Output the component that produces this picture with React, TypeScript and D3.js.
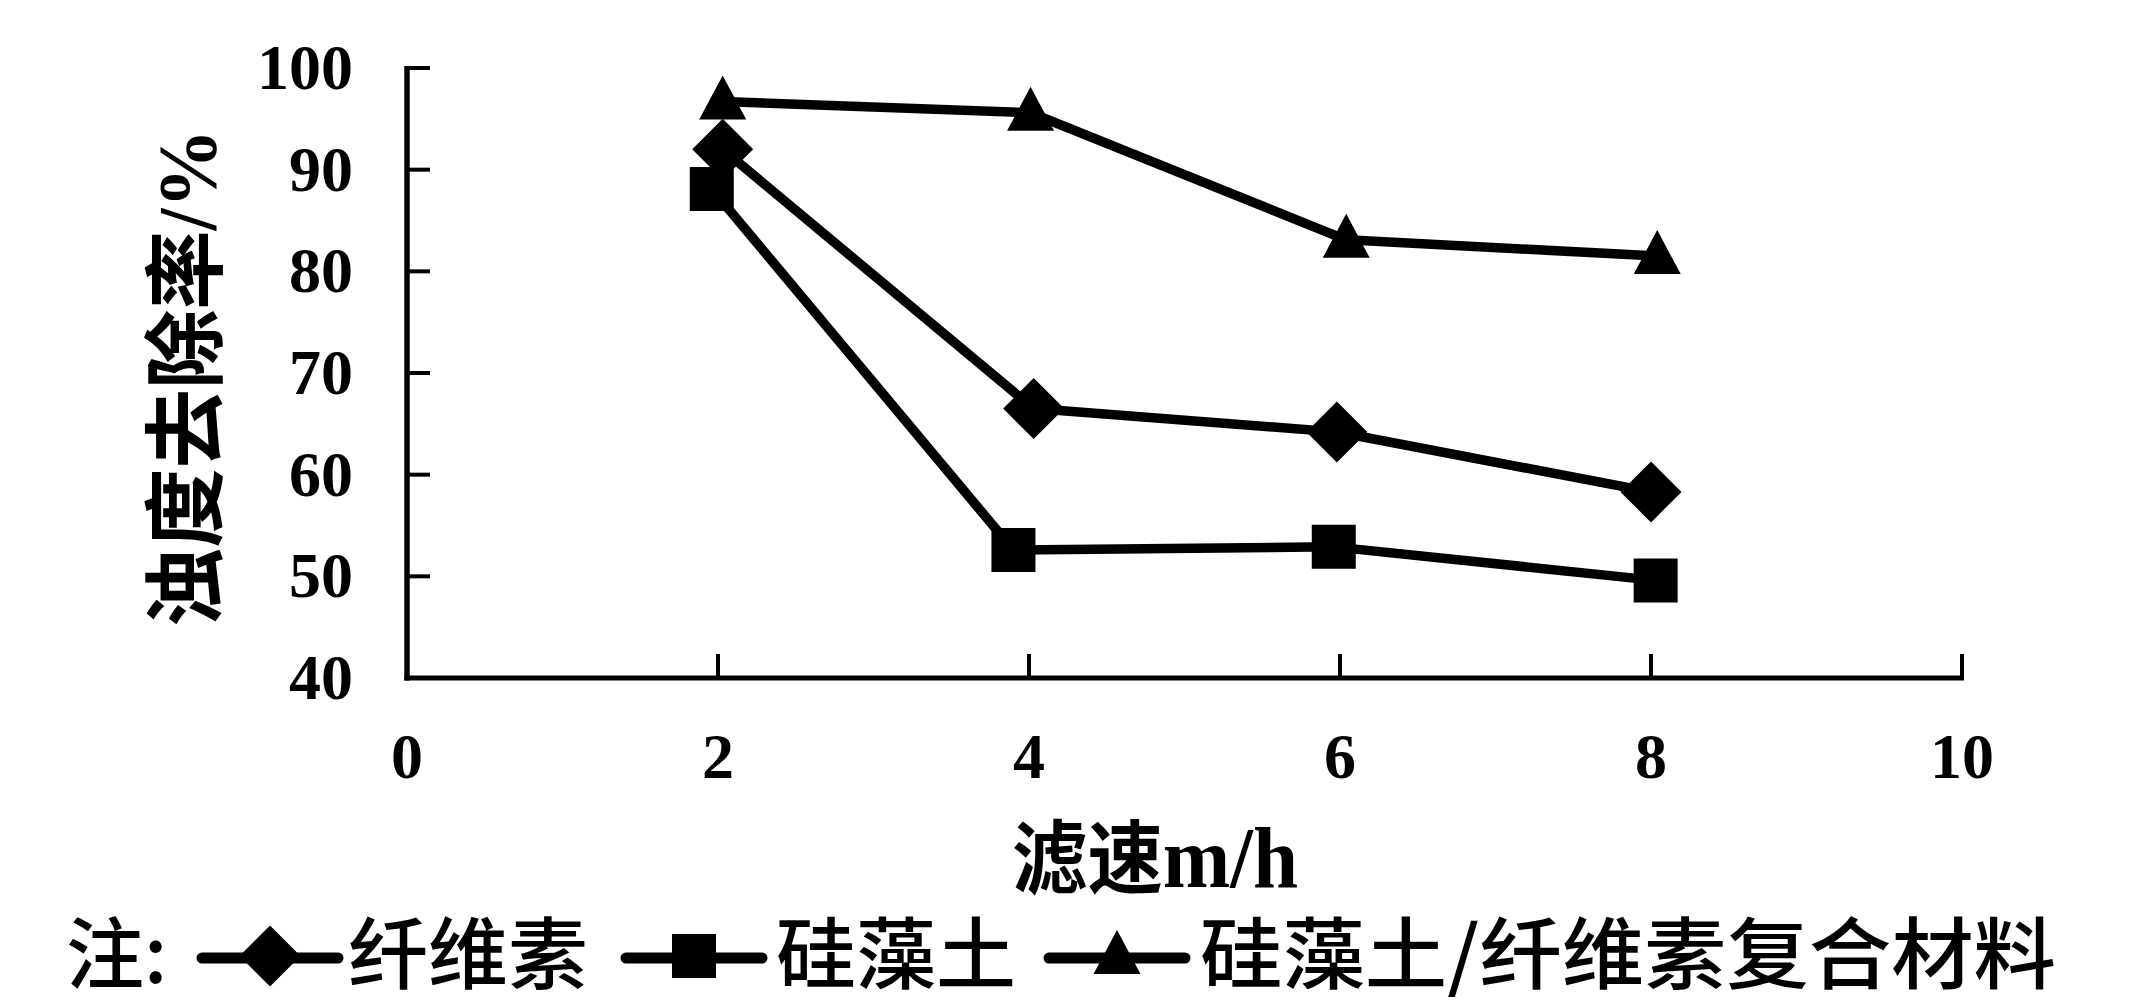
import React from "react";
import * as d3 from "d3";

// ---- data ----
const X_TICKS = [0, 2, 4, 6, 8, 10];
const Y_TICKS = [40, 50, 60, 70, 80, 90, 100];

const celluloseX = [2.03, 4.03, 5.98, 8.0];
const celluloseY = [92.0, 66.5, 64.2, 58.3];

const diatomiteX = [1.96, 3.9, 5.96, 8.03];
const diatomiteY = [88.1, 52.6, 52.9, 49.6];

const compositeX = [2.03, 4.01, 6.04, 8.04];
const compositeY = [96.7, 95.6, 83.1, 81.5];

const SERIES_NAMES = ["纤维素", "硅藻土", "硅藻土/纤维素复合材料"];
const SERIES_MARKERS = ["diamond", "square", "triangle"];

const Y_TITLE = "浊度去除率/%";
const X_TITLE_CJK = "滤速";
const X_TITLE_UNIT = "m/h";
const LEGEND_PREFIX = "注:";

// ---- layout ----
const W = 2142;
const H = 1007;
const PLOT_LEFT = 407;
const PLOT_RIGHT = 1962;
const PLOT_TOP = 68;
const PLOT_BOTTOM = 678;

const x = d3.scaleLinear().domain([0, 10]).range([PLOT_LEFT, PLOT_RIGHT]);
const y = d3.scaleLinear().domain([40, 100]).range([PLOT_BOTTOM, PLOT_TOP]);

const SERIF = "'Liberation Serif', 'Times New Roman', serif";
const CJK = "'Noto Sans CJK SC', 'Noto Sans CJK JP', sans-serif";
const MIXED = "'Liberation Serif', 'Noto Sans CJK SC', serif";

function markerPath(kind: string): string {
  if (kind === "diamond") {
    const r = 30.5;
    return `M0,${-r}L${r},0L0,${r}L${-r},0Z`;
  }
  if (kind === "square") {
    const h = 22;
    return `M${-h},${-h}L${h},${-h}L${h},${h}L${-h},${h}Z`;
  }
  const hw = 23.5;
  return `M0,-26L${hw},18L${-hw},18Z`;
}

const line = d3
  .line<[number, number]>()
  .x((d) => x(d[0]))
  .y((d) => y(d[1]));

export default function App() {
  const series = [
    { xs: celluloseX, ys: celluloseY, marker: SERIES_MARKERS[0] },
    { xs: diatomiteX, ys: diatomiteY, marker: SERIES_MARKERS[1] },
    { xs: compositeX, ys: compositeY, marker: SERIES_MARKERS[2] },
  ];

  const tickFs = 64;

  // legend layout
  const legendLineY = 958;
  const legendBaseline = 983;
  const legendItems = [
    { lineX0: 202, lineX1: 338, textX: 348, textLen: 240 },
    { lineX0: 626, lineX1: 762, textX: 776, textLen: 240 },
    { lineX0: 1049, lineX1: 1185, textX: 1200, textLen: 856 },
  ];

  return (
    <svg
      width={W}
      height={H}
      viewBox={`0 0 ${W} ${H}`}
      style={{ position: "absolute", left: 0, top: 0, display: "block", background: "#fff" }}
    >
      <rect x={0} y={0} width={W} height={H} fill="#fff" />

      {/* axes */}
      <line x1={PLOT_LEFT} y1={PLOT_TOP - 2} x2={PLOT_LEFT} y2={PLOT_BOTTOM + 2.5} stroke="#000" strokeWidth={5.5} />
      <line x1={PLOT_LEFT - 2.5} y1={PLOT_BOTTOM} x2={PLOT_RIGHT + 2} y2={PLOT_BOTTOM} stroke="#000" strokeWidth={5} />

      {Y_TICKS.map((t) => (
        <g key={"yt" + t}>
          <line x1={PLOT_LEFT} x2={PLOT_LEFT + 23} y1={y(t)} y2={y(t)} stroke="#000" strokeWidth={4} />
          <text
            x={353}
            y={y(t) + tickFs * 0.33}
            textAnchor="end"
            fontFamily={SERIF}
            fontWeight="bold"
            fontSize={tickFs}
            fill="#000"
          >
            {t}
          </text>
        </g>
      ))}

      {X_TICKS.map((t) => (
        <g key={"xt" + t}>
          <line x1={x(t)} x2={x(t)} y1={PLOT_BOTTOM} y2={PLOT_BOTTOM - 24} stroke="#000" strokeWidth={4} />
          <text
            x={x(t)}
            y={757 + tickFs * 0.33}
            textAnchor="middle"
            fontFamily={SERIF}
            fontWeight="bold"
            fontSize={tickFs}
            fill="#000"
          >
            {t}
          </text>
        </g>
      ))}

      {/* series */}
      {series.map((s, i) => {
        const pts: [number, number][] = s.xs.map((v, j) => [v, s.ys[j]]);
        return (
          <g key={"s" + i}>
            <path
              d={line(pts) || ""}
              fill="none"
              stroke="#000"
              strokeWidth={9.5}
              strokeLinejoin="round"
              strokeLinecap="round"
            />
            {pts.map((p, j) => (
              <path
                key={j}
                d={markerPath(s.marker)}
                transform={`translate(${x(p[0])},${y(p[1])})`}
                fill="#000"
              />
            ))}
          </g>
        );
      })}

      {/* y title */}
      <text
        transform={`translate(215,378) rotate(-90)`}
        textAnchor="middle"
        fontFamily={MIXED}
        fontWeight="bold"
        fontSize={82}
        textLength={498}
        lengthAdjust="spacingAndGlyphs"
        fill="#000"
      >
        {Y_TITLE}
      </text>

      {/* x title */}
      <text
        x={1012}
        y={887}
        fontFamily={MIXED}
        fontWeight="bold"
        fontSize={80}
        textLength={286}
        lengthAdjust="spacingAndGlyphs"
        fill="#000"
      >
        {X_TITLE_CJK}
        <tspan fontSize={86}>{X_TITLE_UNIT}</tspan>
      </text>

      {/* legend */}
      <text x={66} y={legendBaseline} fontFamily={CJK} fontWeight={500} fontSize={78} fill="#000">
        {LEGEND_PREFIX}
      </text>
      {legendItems.map((it, i) => (
        <g key={"lg" + i}>
          <line
            x1={it.lineX0}
            x2={it.lineX1}
            y1={legendLineY}
            y2={legendLineY}
            stroke="#000"
            strokeWidth={11}
            strokeLinecap="round"
          />
          <path
            d={markerPath(SERIES_MARKERS[i])}
            transform={`translate(${(it.lineX0 + it.lineX1) / 2},${legendLineY - 2})`}
            fill="#000"
          />
          <text
            x={it.textX}
            y={legendBaseline}
            fontFamily={CJK}
            fontWeight={500}
            fontSize={78}
            textLength={it.textLen}
            lengthAdjust="spacingAndGlyphs"
            fill="#000"
          >
            {SERIES_NAMES[i]}
          </text>
        </g>
      ))}
    </svg>
  );
}
